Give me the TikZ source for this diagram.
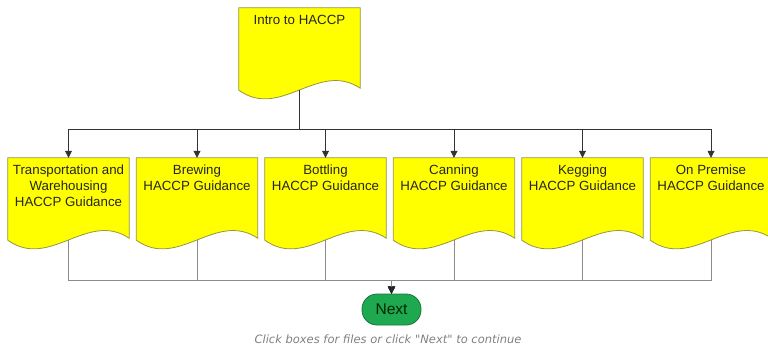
\documentclass[tikz,border=0pt]{standalone}
\usepackage{fontspec}
\setmainfont{Liberation Sans}
\newfontfamily\hintfont{DejaVu Sans}
\usetikzlibrary{arrows.meta,backgrounds}
\definecolor{docyellow}{RGB}{255,255,0}
\definecolor{docedge}{RGB}{150,150,60}
\definecolor{nextgreen}{RGB}{30,168,80}
\definecolor{nextedge}{RGB}{20,120,55}
\newcommand{\doctext}[1]{\parbox[t][82pt][t]{121pt}{\centering\vspace*{7pt}#1}}

\begin{document}
\begin{tikzpicture}
    [x=1pt,y=1pt,inner sep=0pt,
     doc/.style={font=\fontsize{13.3}{16}\selectfont,text=black!85},
     docshape/.style={fill=docyellow,draw=docedge,line width=0.8pt},
     link/.style={draw=black!80,line width=0.8pt,-{Triangle[width=7pt,length=7pt]}},
     back/.style={draw=black!45,line width=0.8pt,-{Triangle[width=7pt,length=7pt,color=black!85]}},
     nextbox/.style={rounded corners=15pt,minimum width=59pt,minimum height=31pt,
       fill=nextgreen,draw=nextedge,line width=0.8pt,
       font=\fontsize{15.5}{18}\selectfont,text=black!85!green}]
    \useasboundingbox (0,0) rectangle (768,-348);
    \node (intro) at (299.5,-49) [doc] {\doctext{Intro to HACCP}};
    \node (trans) at (68.5,-199) [doc] {\doctext{Transportation and\\ Warehousing\\ HACCP Guidance}};
    \node (brew) at (197,-199) [doc] {\doctext{Brewing\\ HACCP Guidance}};
    \node (bott) at (325.5,-199) [doc] {\doctext{Bottling\\ HACCP Guidance}};
    \node (can) at (454,-199) [doc] {\doctext{Canning\\ HACCP Guidance}};
    \node (keg) at (582.5,-199) [doc] {\doctext{Kegging\\ HACCP Guidance}};
    \node (prem) at (711,-199) [doc] {\doctext{On Premise\\ HACCP Guidance}};
    \node (next) at (391.5,-309.5) [nextbox] {Next};
    \node (hint) at (388,-339) [font=\hintfont\itshape\fontsize{11.5}{13}\selectfont,text=black!50]
      {Click boxes for files or click \textquotedbl Next\textquotedbl{} to continue};
    \begin{scope}[on background layer]
      \foreach \n in {intro,trans,brew,bott,can,keg,prem}
        \path [docshape] (\n.north west) -- (\n.north east) -- ([yshift=2pt]\n.south east)
          .. controls +(-42,28) and +(42,-30) .. (\n.south west) -- cycle;
    \end{scope}
    \draw [link] (intro.south) -- ++(0,-39) -| (trans.north);
    \draw [link] (intro.south) -- ++(0,-39) -| (brew.north);
    \draw [link] (intro.south) -- ++(0,-39) -| (bott.north);
    \draw [link] (intro.south) -- ++(0,-39) -| (can.north);
    \draw [link] (intro.south) -- ++(0,-39) -| (keg.north);
    \draw [link] (intro.south) -- ++(0,-39) -| (prem.north);
    \draw [back] (trans.south) -- ++(0,-40) -| (next.north);
    \draw [back] (brew.south) -- ++(0,-40) -| (next.north);
    \draw [back] (bott.south) -- ++(0,-40) -| (next.north);
    \draw [back] (can.south) -- ++(0,-40) -| (next.north);
    \draw [back] (keg.south) -- ++(0,-40) -| (next.north);
    \draw [back] (prem.south) -- ++(0,-40) -| (next.north);
  \end{tikzpicture}
\end{document}
